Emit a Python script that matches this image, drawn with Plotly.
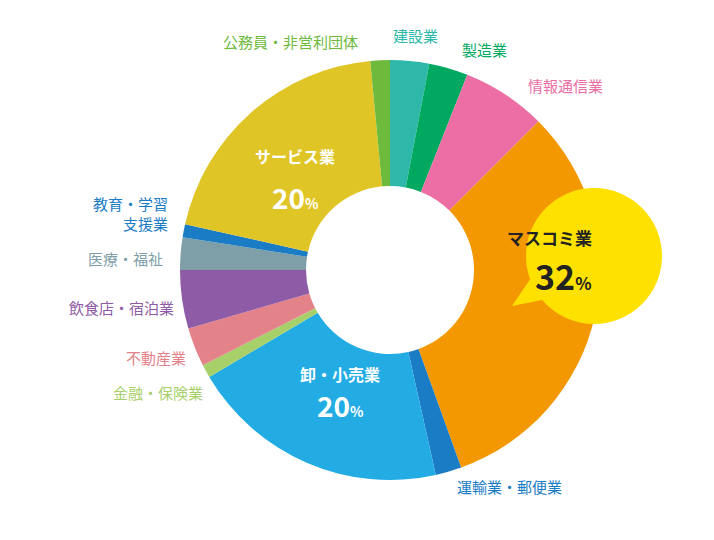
import plotly.graph_objects as go

W, H = 714, 540
OFF = 8  # page body margin
FONT = "Noto Sans CJK JP"

categories = ["建設業", "製造業", "情報通信業", "マスコミ業", "運輸業・郵便業", "卸・小売業",
              "金融・保険業", "不動産業", "飲食店・宿泊業", "医療・福祉", "教育・学習支援業",
              "サービス業", "公務員・非営利団体"]
values = [3, 3, 6.5, 32, 2, 20, 1, 3, 4.5, 2.5, 1, 20, 1.5]
colors = ["#2DB8AA", "#00A95F", "#EC6EA5", "#F39800", "#1B7CC6", "#22ACE3",
          "#A8D06A", "#E4828A", "#8E5BA6", "#7E9FA8", "#1B7CC6", "#E0C526", "#6DBA3C"]

# outside label positions in pixels (x, y, anchor)
label_pos = {
    "建設業": (415, 35, "center"),
    "製造業": (485, 50, "center"),
    "情報通信業": (565, 85, "center"),
    "運輸業・郵便業": (510, 486, "center"),
    "金融・保険業": (205, 393, "right"),
    "不動産業": (188, 357, "right"),
    "飲食店・宿泊業": (176, 307, "right"),
    "医療・福祉": (165, 258, "right"),
    "教育・学習支援業": (170, 213, "right"),
    "公務員・非営利団体": (290, 41, "center"),
}
label_text = {"教育・学習支援業": "教育・学習<br>支援業"}


def px(x, y):
    return (x - OFF) / W, 1 - (y - OFF) / H


fig = go.Figure(go.Pie(
    labels=categories, values=values, sort=False, direction="clockwise",
    rotation=0, hole=0.40, textinfo="none", hoverinfo="label+percent",
    marker=dict(colors=colors, line=dict(width=0)),
    domain=dict(x=[px(180, 0)[0], px(600, 0)[0]], y=[px(0, 480)[1], px(0, 60)[1]]),
))

ann = []
for c, col in zip(categories, colors):
    if c in label_pos:
        x, y, a = label_pos[c]
        xx, yy = px(x, y)
        ann.append(dict(x=xx, y=yy, xref="paper", yref="paper", xanchor=a, yanchor="middle",
                        text=label_text.get(c, c), showarrow=False, align="right",
                        font=dict(family=FONT, size=15, color=col)))

inner = [("サービス業", "20", 295, 142, 175, "white"),
         ("卸・小売業", "20", 340, 388, 427, "white"),
         ("マスコミ業", "32", 594, 237, 275, "#222222")]
for name, pct, x, y1, y2, col in inner:
    xx, yy = px(x, y1)
    ann.append(dict(x=xx, y=yy, xref="paper", yref="paper", text="<b>" + name + "</b>",
                    showarrow=False, font=dict(family=FONT, size=17 if col != "white" else 16, color=col)))
    xx, yy = px(x, y2)
    big = 34 if col != "white" else 28
    ann.append(dict(x=xx, y=yy, xref="paper", yref="paper",
                    text="<b>" + pct + "</b><b><span style='font-size:%dpx'>%%</span></b>" % (big // 2),
                    showarrow=False, font=dict(family=FONT, size=big, color=col)))

cx0, cy0 = px(526, 188)
cx1, cy1 = px(662, 324)
tail = "M %f %f L %f %f L %f %f Z" % (*px(535, 272), *px(512, 306), *px(552, 298))
shapes = [
    dict(type="path", xref="paper", yref="paper", path=tail, fillcolor="#FFE100", line=dict(width=0)),
    dict(type="circle", xref="paper", yref="paper", x0=cx0, y0=cy1, x1=cx1, y1=cy0,
         fillcolor="#FFE100", line=dict(width=0)),
]

fig.update_layout(width=W, height=H, margin=dict(l=0, r=0, t=0, b=0), showlegend=False,
                  paper_bgcolor="white", plot_bgcolor="white",
                  annotations=ann, shapes=shapes, font=dict(family=FONT))
fig.write_html("out.html")
